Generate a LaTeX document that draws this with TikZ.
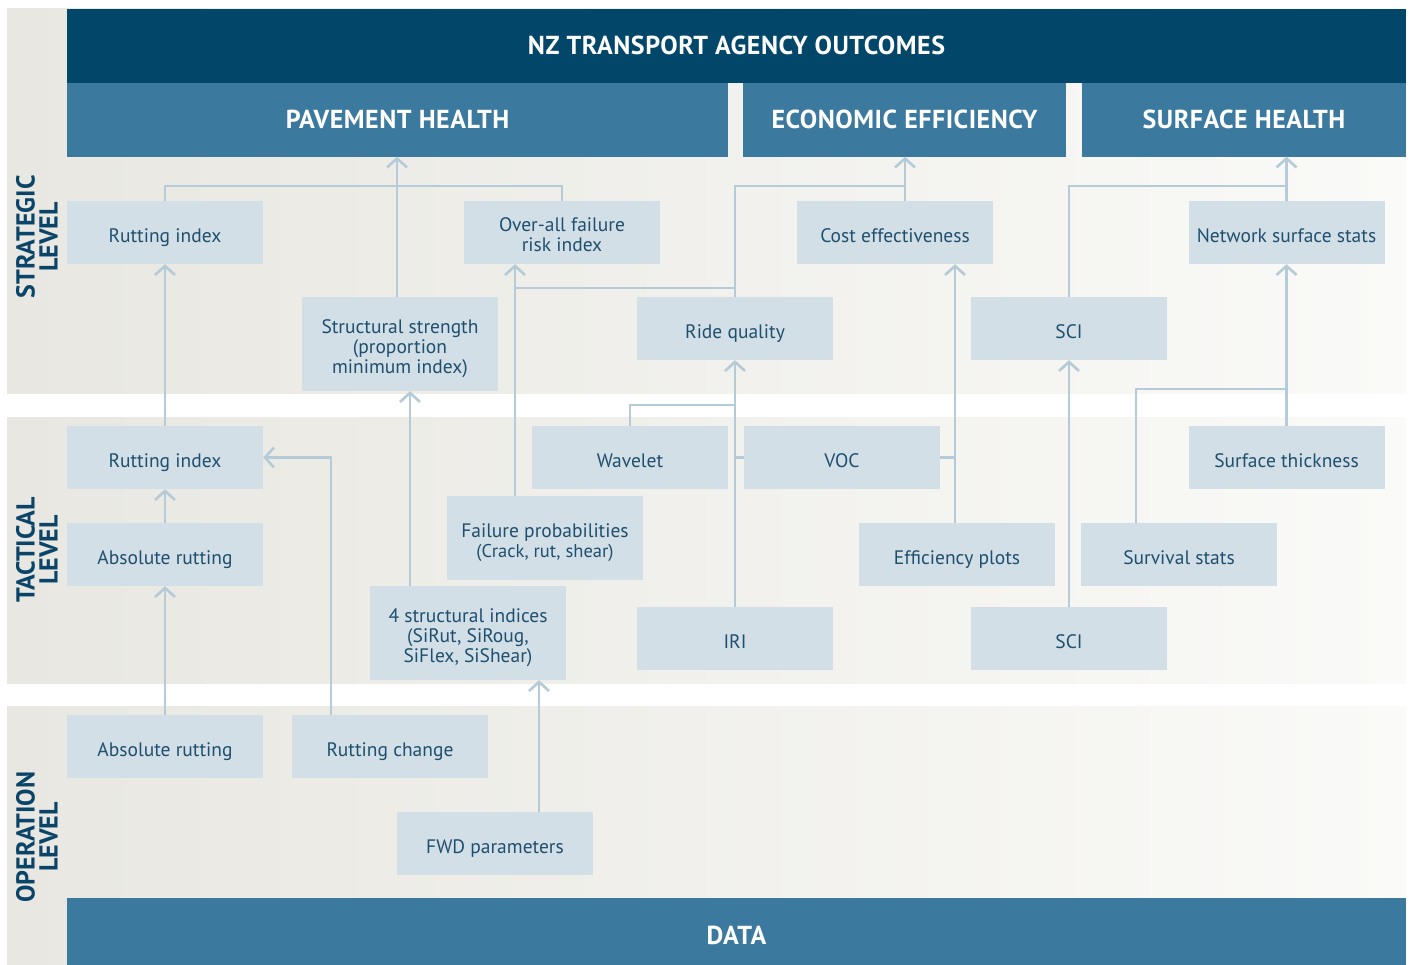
\documentclass[tikz,border=0pt]{standalone}
\usepackage{fontspec}
\setmainfont{PT Sans}
\usetikzlibrary{arrows.meta}
\definecolor{navy}{HTML}{02466A}
\definecolor{steel}{HTML}{3B7A9E}
\definecolor{boxfill}{HTML}{D3DFE7}
\definecolor{boxtext}{HTML}{1F4F6E}
\definecolor{lvlc}{HTML}{0B4469}
\definecolor{linec}{HTML}{B5CBD8}
\definecolor{bandL}{HTML}{E8E7E1}
\definecolor{bandR}{HTML}{FAFAF8}
% strut that lowers single-line box text slightly within its box
\newcommand\boxstrut{\rule{0pt}{19.5pt}}
% centred multi-line box text, nudged down a little
\newcommand\stacktext[1]{\raisebox{-5pt}[\height][\depth]{\begin{tabular}{@{}c@{}}#1\end{tabular}}}
\begin{document}
\begin{tikzpicture}[x=1pt,y=-1pt,
  boxbase/.style={rectangle, fill=boxfill, text=boxtext, minimum width=196pt,
    minimum height=63pt, inner sep=0pt, align=center,
    font=\fontsize{19.5}{20}\selectfont},
  box/.style={boxbase, text depth=0pt, execute at begin node=\boxstrut},
  stackbox/.style={boxbase},
  head/.style={rectangle, inner sep=0pt, text=white, minimum height=74pt,
    font=\bfseries\fontsize{26}{28}\selectfont\addfontfeatures{LetterSpace=2}},
  lvl/.style={rotate=90, align=center, inner sep=0pt, text=lvlc,
    font=\bfseries\fontsize{26}{23}\selectfont},
  ln/.style={draw=linec, line width=2.6pt},
  arr/.style={ln, -{Straight Barb[length=9pt,width=20pt]}}]

% canvas
\fill[white] (0,0) rectangle (1413,964);
\useasboundingbox (0,0) rectangle (1413,964);

% level bands
\shade[left color=bandL, right color=bandR] (7,8) rectangle (1406,393);
\shade[left color=bandL, right color=bandR] (7,417) rectangle (1406,683);
\shade[left color=bandL, right color=bandR] (7,706) rectangle (1406,964);

% level labels
\node[lvl] (lvS) at (37,237) {STRATEGIC\\LEVEL};
\node[lvl] (lvT) at (37,550) {TACTICAL\\LEVEL};
\node[lvl] (lvO) at (37,837) {OPERATION\\LEVEL};

% outcome headers
\node[head, fill=navy, minimum width=1339pt] (nzta) at (736.5,45.5) {NZ TRANSPORT AGENCY OUTCOMES};
\node[head, fill=steel, minimum width=661pt] (ph) at (397.5,119.5) {PAVEMENT HEALTH};
\node[head, fill=steel, minimum width=323pt] (ee) at (904.5,119.5) {ECONOMIC EFFICIENCY};
\node[head, fill=steel, minimum width=324pt] (sh) at (1244,119.5) {SURFACE HEALTH};
\node[head, fill=steel, minimum width=1339pt] (data) at (736.5,935) {DATA};

% junction rows and columns
\coordinate (topJ) at (0,186);
\coordinate (riskJ) at (0,288);
\coordinate (survJ) at (0,389);
\coordinate (waveJ) at (0,405);
\coordinate (phX) at (397,0);
\coordinate (ssX) at (410,0);
\coordinate (riskX) at (515,0);
\coordinate (rcX) at (331,0);
\coordinate (fwdX) at (539,0);
\coordinate (ceX) at (905,0);
\coordinate (epX) at (955,0);
\coordinate (svX) at (1136,0);

% boxes: strategic level
\node[box] (sri) at (165,232.5) {Rutting index};
\node[stackbox] (ori) at (562,232.5) {\stacktext{Over-all failure\\risk index}};
\node[box] (ce) at (895,232.5) {Cost effectiveness};
\node[box] (nss) at (1286.5,232.5) {Network surface stats};
\node[stackbox, minimum height=94pt] (ss) at (400,344) {\stacktext{Structural strength\\(proportion\\minimum index)}};
\node[box] (rq) at (735,328.5) {Ride quality};
\node[box] (scis) at (1069,328.5) {SCI};

% boxes: tactical level
\node[box] (tri) at (165,457.5) {Rutting index};
\node[box] (wv) at (630,457.5) {Wavelet};
\node[box] (voc) at (842,457.5) {VOC};
\node[box] (st) at (1286.5,457.5) {Surface thickness};
\node[box] (tar) at (165,554.5) {Absolute rutting};
\node[stackbox, minimum height=84pt] (fp) at (545,538) {\stacktext{Failure probabilities\\{\fontsize{18.5}{20}\selectfont(Crack, rut, shear)}}};
\node[box] (ep) at (957,554.5) {Efficiency plots};
\node[box] (sv) at (1179,554.5) {Survival stats};
\node[stackbox, minimum height=94pt] (si) at (468,633) {\stacktext{4 structural indices\\(SiRut, SiRoug,\\SiFlex, SiShear)}};
\node[box] (iri) at (735,638.5) {IRI};
\node[box] (scit) at (1069,638.5) {SCI};

% boxes: operation level
\node[box] (oar) at (165,746.5) {Absolute rutting};
\node[box] (rc) at (390,746.5) {Rutting change};
\node[box] (fwd) at (495,843.5) {FWD parameters};

% links: pavement health
\draw[ln] (sri.north) |- (ori.north |- topJ) -- (ori.north);
\draw[arr] (ss.north -| phX) -- (ph.south -| phX);
\draw[arr] (fp.north -| riskX) -- (ori.south -| riskX);
\draw[ln] (rq.north) |- (riskX |- riskJ);
\draw[arr] (si.north -| ssX) -- (ss.south -| ssX);
\draw[arr] (fwd.north -| fwdX) -- (si.south -| fwdX);
\draw[arr] (tri.north) -- (sri.south);
\draw[arr] (tar.north) -- (tri.south);
\draw[arr] (oar.north) -- (tar.south);
\draw[arr] (rc.north -| rcX) |- (tri.east);

% links: economic efficiency
\draw[arr] (rq.north) |- (ceX |- topJ) -- (ee.south -| ceX);
\draw[ln] (ce.north -| ceX) -- (ceX |- topJ);
\draw[arr] (ep.north -| epX) -- (ce.south -| epX);
\draw[ln] (voc.east) -- (voc.east -| epX);
\draw[arr] (iri.north) -- (rq.south);
\draw[ln] (wv.north) |- (iri.north |- waveJ);
\draw[ln] (voc.west) -- (voc.west -| iri.north);

% links: surface health
\draw[arr] (scit.north) -- (scis.south);
\draw[ln] (scis.north) |- (nss.north |- topJ);
\draw[arr] (nss.north) -- (nss.north |- sh.south);
\draw[arr] (st.north) -- (nss.south);
\draw[ln] (sv.north -| svX) |- (st.north |- survJ);
\end{tikzpicture}
\end{document}
